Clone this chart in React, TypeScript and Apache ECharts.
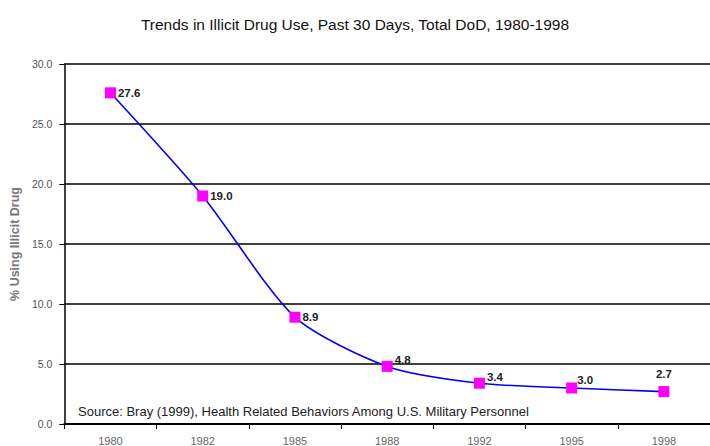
import React, { useEffect, useRef } from "react";
import * as echarts from "echarts";

const years = ["1980", "1982", "1985", "1988", "1992", "1995", "1998"];
const usage = [27.6, 19.0, 8.9, 4.8, 3.4, 3.0, 2.7];
const titleText = "Trends in Illicit Drug Use, Past 30 Days, Total DoD, 1980-1998";
const sourceText = "Source: Bray (1999), Health Related Behaviors Among U.S. Military Personnel";
const yAxisName = "% Using Illicit Drug";

const labelPlacement: any[] = [
  { position: "right", offset: [-2, 0] },
  { position: "right", offset: [-2, 0] },
  { position: "right", offset: [-2, 0] },
  { position: "right", offset: [-2, -6] },
  { position: "right", offset: [-2, -6] },
  { position: "right", offset: [-4, -8] },
  { position: "top", offset: [0, -2] },
];

export default function App() {
  const ref = useRef<HTMLDivElement>(null);
  useEffect(() => {
    document.body.style.margin = "0";
    const chart = echarts.init(ref.current!, null, { renderer: "svg" });
    chart.setOption({
      animation: false,
      backgroundColor: "#ffffff",
      title: {
        text: titleText,
        left: "center",
        top: 11,
        textStyle: { fontFamily: "Liberation Sans, Arial", fontSize: 15.5, fontWeight: "normal", color: "#111" },
      },
      grid: { left: 63, top: 64, right: -11, bottom: 22, containLabel: false },
      xAxis: {
        type: "category",
        data: years,
        boundaryGap: true,
        axisLine: { lineStyle: { color: "#000", width: 2 } },
        axisTick: { show: true, length: 5, lineStyle: { color: "#000", width: 1 } },
        axisLabel: { fontFamily: "Liberation Sans, Arial", fontSize: 11, color: "#666", margin: 11 },
      },
      yAxis: {
        type: "value",
        min: 0,
        max: 30,
        interval: 5,
        name: yAxisName,
        nameLocation: "middle",
        nameGap: 41,
        nameTextStyle: { fontFamily: "Liberation Sans, Arial", fontSize: 12.5, color: "#777", fontWeight: "bold" },
        axisLine: { show: true, lineStyle: { color: "#000", width: 1.5 } },
        axisTick: { show: true, length: 5, lineStyle: { color: "#000", width: 1 } },
        axisLabel: {
          fontFamily: "Liberation Sans, Arial",
          fontSize: 10.5,
          color: "#555",
          margin: 12,
          formatter: (v: number) => v.toFixed(1),
        },
        splitLine: { show: true, lineStyle: { color: "#000", width: 1.5 } },
      },
      graphic: [
        {
          type: "text",
          left: 78,
          top: 405,
          style: {
            text: sourceText,
            fontFamily: "Liberation Sans, Arial",
            fontSize: 13,
            fill: "#222",
          },
        },
      ],
      series: [
        {
          type: "line",
          data: usage.map((v, i) => ({
            value: v,
            label: {
              show: true,
              position: labelPlacement[i].position,
              offset: labelPlacement[i].offset,
            },
          })),
          smooth: 0.25,
          lineStyle: { color: "#0000ff", width: 1.6 },
          symbol: "rect",
          symbolSize: 11,
          itemStyle: { color: "#ff00ff" },
          label: {
            show: true,
            distance: 4,
            formatter: (p: any) => Number(p.value).toFixed(1),
            fontFamily: "Liberation Sans, Arial",
            fontSize: 11.5,
            fontWeight: "bold",
            color: "#222",
          },
        },
      ],
    });
    return () => chart.dispose();
  }, []);
  return <div ref={ref} style={{ width: 710, height: 446 }} />;
}
